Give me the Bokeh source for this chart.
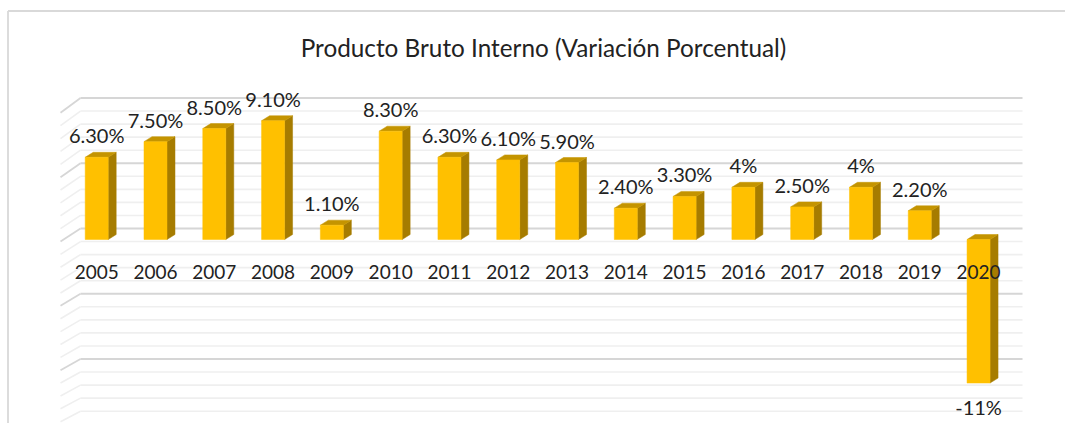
from bokeh.plotting import figure
from bokeh.models import Range1d, Label, ColumnDataSource
from bokeh.core.properties import value
from bokeh.embed import file_html
from bokeh.resources import INLINE

# ---- data ----
years = ["2005", "2006", "2007", "2008", "2009", "2010", "2011", "2012",
         "2013", "2014", "2015", "2016", "2017", "2018", "2019", "2020"]
growth = [6.3, 7.5, 8.5, 9.1, 1.1, 8.3, 6.3, 6.1, 5.9, 2.4, 3.3, 4.0, 2.5, 4.0, 2.2, -11.0]
value_labels = ["6.30%", "7.50%", "8.50%", "9.10%", "1.10%", "8.30%", "6.30%", "6.10%",
                "5.90%", "2.40%", "3.30%", "4%", "2.50%", "4%", "2.20%", "-11%"]
title_text = "Producto Bruto Interno (Variación Porcentual)"
grid_major = [-15, -10, -5, 0, 5, 10]
grid_minor = [-14, -13, -12, -11, -9, -8, -7, -6, -4, -3, -2, -1, 1, 2, 3, 4, 6, 7, 8, 9]

# ---- layout (pixels) ----
W, H = 1065, 423
OFF = 0           # page offset of the figure
PX_X = 58.79      # px per category
PX_Y = 13.05      # px per percent
X0_PAGE = 96.2    # page x of first category centre
Y0_PAGE = 239.0   # page y of zero line (front plane)
TXT_SHIFT = 7     # compensate text baseline offset (px)
x_start = -(X0_PAGE - OFF) / PX_X
x_end = x_start + W / PX_X
y_end = (Y0_PAGE - OFF) / PX_Y
y_start = y_end - H / PX_Y


def px(xp):
    return (xp - X0_PAGE) / PX_X


def py(yp):
    return (Y0_PAGE - yp) / PX_Y


p = figure(width=W, height=H, output_backend="svg", toolbar_location=None,
           x_range=Range1d(x_start, x_end), y_range=Range1d(y_start, y_end),
           x_axis_type=None, y_axis_type=None, min_border=0)
p.grid.visible = False
p.outline_line_color = None
p.background_fill_color = "white"
p.border_fill_color = "white"

# chart-area border (left and top)
bx = px(7.5)
by = py(10.5)
p.segment(x0=[bx, bx], y0=[y_start, by], x1=[bx, x_end], y1=[by, by],
          line_color="#d9d9d9", line_width=1.8)

# back wall gridlines with left side-wall diagonals
wall_dy = 11 / PX_Y
wall_left = px(80)
wall_right = px(1022)
side_dx = 20 / PX_X


def wall_lines(levels, color, width):
    yb = [v + wall_dy for v in levels]
    p.segment(x0=[wall_left] * len(levels), y0=yb, x1=[wall_right] * len(levels), y1=yb,
              line_color=color, line_width=width)
    ys = [y - (13 + 0.18 * v) / PX_Y for y, v in zip(yb, levels)]
    p.segment(x0=[wall_left] * len(levels), y0=yb, x1=[wall_left - side_dx] * len(levels), y1=ys,
              line_color=color, line_width=width)


wall_lines(grid_minor, "#efefef", 1.6)
wall_lines(grid_major, "#d6d6d6", 1.8)

# 3D bars
half = 11.5 / PX_X
ddx = 8 / PX_X
ddy = 5 / PX_Y
xs = list(range(len(years)))
side_x, side_y, top_x, top_y = [], [], [], []
for i, v in zip(xs, growth):
    lo, hi = min(0, v), max(0, v)
    r = i + half
    l = i - half
    side_x.append([r, r + ddx, r + ddx, r])
    side_y.append([lo, lo + ddy, hi + ddy, hi])
    top_x.append([l, r, r + ddx, l + ddx])
    top_y.append([hi, hi, hi + ddy, hi + ddy])

p.patches(side_x, side_y, fill_color="#a67c00", line_color="#a67c00", line_width=0.5)
p.patches(top_x, top_y, fill_color="#c49400", line_color="#c49400", line_width=0.5)
p.quad(left=[i - half for i in xs], right=[i + half for i in xs],
       bottom=[min(0, v) for v in growth], top=[max(0, v) for v in growth],
       fill_color="#ffc000", line_color="#ffc000", line_width=0.5)

# value labels
lab_y = [v + (15 + TXT_SHIFT) / PX_Y if v >= 0 else v - (31 - TXT_SHIFT) / PX_Y for v in growth]
src = ColumnDataSource(dict(x=xs, y=lab_y, t=value_labels))
p.text(x="x", y="y", text="t", source=src, text_align="center", text_baseline="alphabetic",
       text_font=value("Lato"), text_font_size="20px", text_color="#222222")

# category labels
yl = py(278.3 - TXT_SHIFT)
p.text(x=xs, y=[yl] * len(xs), text=years, text_align="center", text_baseline="alphabetic",
       text_font=value("Lato"), text_font_size="19px", text_color="#222222")

# title
p.add_layout(Label(x=px(543), y=py(54.3 - TXT_SHIFT), text=title_text,
                   text_align="center", text_baseline="alphabetic",
                   text_font="Lato", text_font_size="24.3px", text_color="#222222"))

open("out.html", "w").write(file_html(p, INLINE))
